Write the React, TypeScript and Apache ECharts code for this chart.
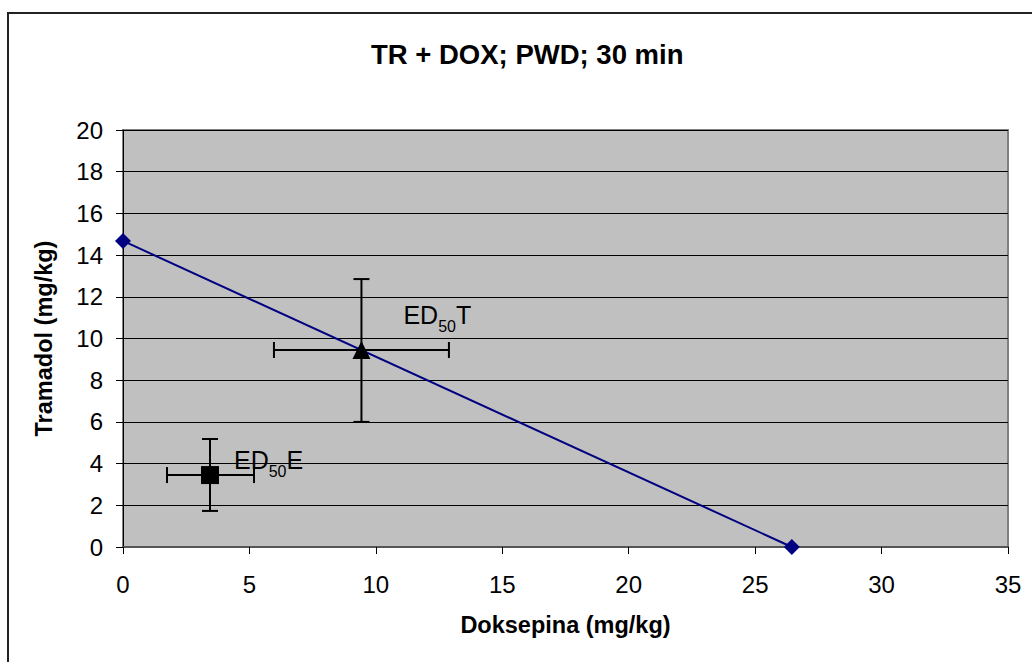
import React, { useEffect, useRef } from "react";
import * as echarts from "echarts";

const title = "TR + DOX; PWD; 30 min";
const xName = "Doksepina (mg/kg)";
const yName = "Tramadol (mg/kg)";
const isoLine: [number, number][] = [[0, 14.68], [26.45, 0]];
const ed50T: [number, number] = [9.43, 9.45];
const ed50E: [number, number] = [3.44, 3.45];
// [x, y, xLow, xHigh, yLow, yHigh]
const errBars: number[][] = [
  [9.43, 9.45, 5.97, 12.89, 6.0, 12.85],
  [3.44, 3.45, 1.74, 5.18, 1.73, 5.18],
];

const FONT = "'Liberation Sans', Arial, sans-serif";

const richLabel = {
  a: { fontSize: 25, color: "#000", fontFamily: FONT, lineHeight: 28, verticalAlign: "bottom" },
  b: { fontSize: 16, color: "#000", fontFamily: FONT, lineHeight: 28, verticalAlign: "bottom", padding: [0, 0, -7, 0] },
};

export default function App() {
  const ref = useRef<HTMLDivElement>(null);
  useEffect(() => {
    if (!ref.current) return;
    const chart = echarts.init(ref.current, undefined, { renderer: "svg" });
    const cap = 8;
    chart.setOption({
      animation: false,
      backgroundColor: "#fff",
      textStyle: { fontFamily: FONT },
      title: {
        text: title,
        left: 366,
        top: 35,
        textStyle: { fontSize: 27.5, fontWeight: "bold", color: "#000", fontFamily: FONT },
      },
      graphic: [
        {
          type: "rect",
          shape: { x: 8, y: 13, width: 1100, height: 700 },
          style: { fill: "none", stroke: "#222", lineWidth: 2 },
          silent: true,
        },
      ],
      grid: {
        left: 123,
        top: 130,
        width: 885,
        height: 417,
        show: true,
        backgroundColor: "#C0C0C0",
        borderColor: "#808080",
        borderWidth: 2,
      },
      xAxis: {
        type: "value",
        min: 0,
        max: 35,
        interval: 5,
        name: xName,
        nameLocation: "middle",
        nameGap: 66,
        nameMoveOverlap: false,
        nameTextStyle: { fontSize: 23.5, fontWeight: "bold", color: "#000", fontFamily: FONT },
        axisLine: { show: true, onZero: false, lineStyle: { color: "#555", width: 2 } },
        axisTick: { show: true, length: 7, lineStyle: { color: "#000" } },
        axisLabel: { fontSize: 24, color: "#000", margin: 25, fontFamily: FONT },
        splitLine: { show: false },
      },
      yAxis: {
        type: "value",
        min: 0,
        max: 20,
        interval: 2,
        name: yName,
        nameLocation: "middle",
        nameGap: 67,
        nameMoveOverlap: false,
        nameTextStyle: { fontSize: 23.5, fontWeight: "bold", color: "#000", fontFamily: FONT },
        axisLine: { show: true, onZero: false, lineStyle: { color: "#000", width: 1 } },
        axisTick: { show: true, length: 7, lineStyle: { color: "#000" } },
        axisLabel: { fontSize: 24, color: "#000", margin: 20, fontFamily: FONT },
        splitLine: { show: true, lineStyle: { color: "#000", width: 1 } },
      },
      series: [
        {
          type: "line",
          data: isoLine,
          symbol: "diamond",
          symbolSize: 16,
          lineStyle: { color: "#000080", width: 2 },
          itemStyle: { color: "#000080" },
          z: 3,
        },
        {
          type: "custom",
          data: errBars,
          z: 4,
          renderItem: (params: any, api: any) => {
            const xl = api.coord([api.value(2), api.value(1)]);
            const xh = api.coord([api.value(3), api.value(1)]);
            const yl = api.coord([api.value(0), api.value(4)]);
            const yh = api.coord([api.value(0), api.value(5)]);
            const st = { stroke: "#000", lineWidth: 2 };
            return {
              type: "group",
              children: [
                { type: "line", shape: { x1: xl[0], y1: xl[1], x2: xh[0], y2: xh[1] }, style: st },
                { type: "line", shape: { x1: xl[0], y1: xl[1] - cap, x2: xl[0], y2: xl[1] + cap }, style: st },
                { type: "line", shape: { x1: xh[0], y1: xh[1] - cap, x2: xh[0], y2: xh[1] + cap }, style: st },
                { type: "line", shape: { x1: yl[0], y1: yl[1], x2: yh[0], y2: yh[1] }, style: st },
                { type: "line", shape: { x1: yl[0] - cap, y1: yl[1], x2: yl[0] + cap, y2: yl[1] }, style: st },
                { type: "line", shape: { x1: yh[0] - cap, y1: yh[1], x2: yh[0] + cap, y2: yh[1] }, style: st },
              ],
            };
          },
        },
        {
          type: "scatter",
          data: [ed50T],
          symbol: "triangle",
          symbolSize: 18,
          itemStyle: { color: "#000", opacity: 1 },
          z: 5,
          label: {
            show: true,
            position: "right",
            offset: [28, -36],
            opacity: 1,
            formatter: "{a|ED}{b|50}{a|T}",
            rich: richLabel,
          },
        },
        {
          type: "scatter",
          data: [ed50E],
          symbol: "rect",
          symbolSize: 18,
          itemStyle: { color: "#000", opacity: 1 },
          z: 5,
          label: {
            show: true,
            position: "right",
            offset: [10, -17],
            opacity: 1,
            formatter: "{a|ED}{b|50}{a|E}",
            rich: richLabel,
          },
        },
      ],
    });
    return () => chart.dispose();
  }, []);
  return (
    <div
      ref={ref}
      style={{ position: "fixed", left: 0, top: 0, width: 1032, height: 662 }}
    />
  );
}
